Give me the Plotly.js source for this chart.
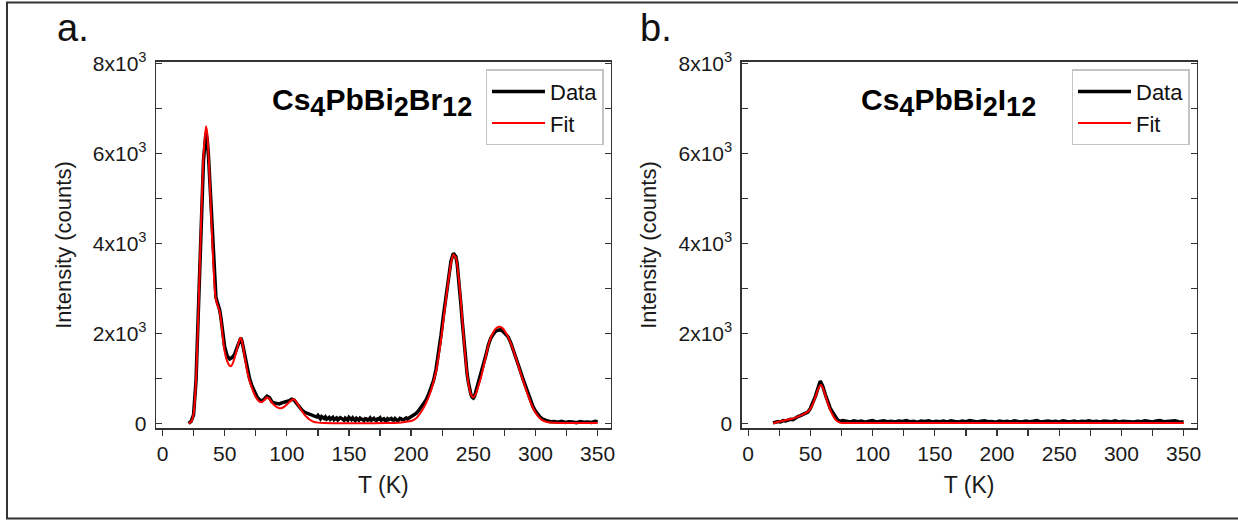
<!DOCTYPE html>
<html>
<head>
<meta charset="utf-8">
<script src="https://cdn.plot.ly/plotly-3.0.1.min.js"></script>
<style>html,body{margin:0;padding:0;background:#fff;}#chart{width:1238px;height:520px;}</style>
</head>
<body>
<div id="chart"></div>
<script>
// ---------- Panel a: Cs4PbBi2Br12 ----------
const dataA = [
  [21,0],[23,40],[25,190],[27,950],[29,2600],[31,4350],[33,5850],[35,6450],[36,6300],[37,5950],
  [38,5450],[39,4850],[40,4250],[41,3650],[42,3100],[43,2800],[44,2700],[45,2620],[46,2520],[47,2350],
  [48,2080],[49,1850],[50,1700],[52,1500],[54,1430],[56,1460],[58,1530],[60,1680],[62,1870],[63,1900],
  [64,1820],[66,1520],[68,1220],[70,1000],[72,830],[74,690],[76,590],[78,520],[80,500],[82,540],
  [84,600],[86,570],[88,480],[90,450],[92,440],[94,430],[96,455],[98,470],[100,480],[102,500],
  [104,535],[106,515],[108,440],[110,360],[112,300],[114,250],[116,225],[118,200],[120,175],[122,165],
  [124,140],[125,175],[126,120],[127,100],[128,150],[129,120],[130,110],[131,140],[132,90],[133,110],
  [134,130],[135,85],[136,100],[137,130],[138,80],[139,100],[140,120],[141,75],[142,90],[143,125],
  [144,110],[145,85],[146,70],[147,115],[148,100],[149,70],[150,130],[151,95],[152,80],[153,120],
  [154,90],[155,60],[156,110],[157,95],[158,70],[159,115],[160,90],[161,65],[162,60],[163,105],
  [164,100],[165,70],[166,80],[167,115],[168,70],[169,90],[170,110],[171,75],[172,60],[173,95],
  [174,90],[175,120],[176,70],[177,85],[178,100],[179,65],[180,60],[181,100],[182,80],[183,95],
  [184,110],[185,75],[186,70],[187,105],[188,90],[189,60],[190,70],[191,110],[192,100],[193,75],
  [194,80],[195,115],[196,120],[197,95],[198,110],[199,130],[200,140],[202,180],
  [204,220],[206,280],[208,350],[210,420],[212,520],[214,640],[216,780],[218,950],[220,1200],[222,1550],
  [224,1950],[226,2400],[228,2850],[230,3250],[232,3600],[234,3780],[236,3700],[237,3550],[238,3300],[239,3000],
  [240,2650],[241,2300],[242,1950],[243,1650],[244,1350],[245,1100],[246,920],[247,770],[248,650],[249,580],
  [250,560],[251,600],[252,700],[254,870],[256,1030],[258,1250],[260,1500],[262,1730],[264,1890],[266,1980],
  [268,2050],[270,2070],[272,2080],[274,2040],[276,1990],[278,1920],[280,1800],[282,1650],[284,1480],[286,1320],
  [288,1150],[290,980],[292,820],[294,650],[296,500],[298,370],[300,270],[302,190],[304,130],[306,90],
  [308,60],[310,50],[312,35],[315,40],[318,25],[321,45],[324,20],[327,35],[330,30],[333,15],
  [336,40],[339,25],[342,30],[345,20],[348,45],[350,35]
];
const fitA = [
  [21,0],[23,30],[25,200],[27,950],[29,2550],[31,4400],[33,5950],[35,6600],[36,6450],[37,6000],
  [38,5400],[39,4700],[40,4100],[41,3500],[42,3000],[43,2750],[44,2650],[45,2580],[46,2480],[47,2300],
  [48,2050],[49,1800],[50,1600],[52,1380],[54,1280],[55,1270],[56,1300],[58,1450],[60,1650],[62,1860],
  [63,1900],[64,1820],[66,1500],[68,1180],[70,950],[72,780],[74,640],[76,540],[78,480],[80,470],
  [82,520],[84,580],[86,540],[88,460],[90,400],[92,360],[94,335],[96,340],[98,370],[100,420],
  [102,470],[104,520],[106,530],[108,460],[110,370],[112,280],[114,200],[116,140],[118,90],[120,55],
  [122,30],[125,15],[130,5],[140,0],[160,0],[180,5],[190,15],[195,30],[200,50],[204,110],
  [208,250],[212,450],[216,730],[220,1150],[224,1850],[228,2750],[232,3550],[234,3750],[236,3680],[238,3300],
  [240,2700],[242,2000],[244,1350],[246,900],[248,650],[250,580],[252,650],[254,820],[256,1000],[258,1230],
  [260,1480],[262,1720],[264,1900],[266,2020],[268,2100],[270,2140],[272,2140],[274,2100],[276,2020],[278,1920],
  [280,1790],[282,1640],[284,1470],[286,1300],[288,1120],[290,950],[292,780],[294,620],[296,470],[298,340],
  [300,240],[302,160],[304,100],[306,60],[310,25],[315,10],[320,5],[330,5],[350,5]
];

// ---------- Panel b: Cs4PbBi2I12 ----------
const dataB = [
  [20,10],[22,30],[24,40],[26,30],[28,60],[30,50],[32,80],[34,90],[36,80],[38,120],
  [40,150],[42,170],[44,190],[46,210],[48,250],[50,330],[52,450],[54,600],[56,770],[57,870],
  [58,940],[59,880],[60,820],[62,640],[64,470],[66,330],[68,240],[70,140],[72,70],[74,40],
  [76,60],[79,45],[82,30],[85,55],[88,35],[91,50],[94,25],[97,45],[100,60],[103,30],
  [106,40],[109,55],[112,35],[115,45],[118,30],[121,50],[124,40],[127,60],[130,35],[133,45],
  [136,25],[139,50],[142,40],[145,55],[148,30],[151,45],[154,35],[157,50],[160,30],[163,55],
  [166,40],[169,30],[172,50],[175,35],[178,60],[181,40],[184,30],[187,45],[190,55],[193,35],
  [196,40],[199,25],[202,50],[205,35],[208,45],[211,30],[214,55],[217,40],[220,30],[223,50],
  [226,35],[229,45],[232,60],[235,30],[238,40],[241,50],[244,35],[247,45],[250,30],[253,55],
  [256,40],[259,35],[262,50],[265,30],[268,45],[271,40],[274,55],[277,35],[280,45],[283,30],
  [286,50],[289,40],[292,35],[295,55],[298,30],[301,45],[304,40],[307,50],[310,30],[313,45],
  [316,35],[319,55],[322,40],[325,30],[328,50],[331,60],[334,35],[337,45],[340,40],[343,55],
  [346,35],[349,45],[350,30]
];
const fitB = [
  [20,0],[25,40],[30,70],[35,100],[40,150],[45,210],[48,260],[50,320],[52,430],[54,580],
  [56,740],[58,850],[59,840],[60,780],[62,620],[64,450],[66,300],[68,180],[70,90],[72,40],
  [74,15],[76,8],[80,5],[150,5],[250,5],[350,5]
];

// ---------- Tick labels ----------
const xTickVals = [0, 50, 100, 150, 200, 250, 300, 350];
const yTickVals = [0, 2000, 4000, 6000, 8000];
const yTickText = ['0', '2x10<sup>3</sup>', '4x10<sup>3</sup>', '6x10<sup>3</sup>', '8x10<sup>3</sup>'];

const FONT = 'Liberation Sans, Arial, Helvetica, sans-serif';
const AX = '#333333';
const col = (arr, i) => arr.map(p => p[i]);

const traces = [
  {x: col(dataA,0), y: col(dataA,1), xaxis:'x', yaxis:'y', name:'Data', mode:'lines',
   line:{color:'#000', width:3.5}, legend:'legend'},
  {x: col(fitA,0), y: col(fitA,1), xaxis:'x', yaxis:'y', name:'Fit', mode:'lines',
   line:{color:'#ff0000', width:2, shape:'spline', smoothing:0.6}, legend:'legend'},
  {x: col(dataB,0), y: col(dataB,1), xaxis:'x2', yaxis:'y2', name:'Data', mode:'lines',
   line:{color:'#000', width:3.5}, legend:'legend2'},
  {x: col(fitB,0), y: col(fitB,1), xaxis:'x2', yaxis:'y2', name:'Fit', mode:'lines',
   line:{color:'#ff0000', width:2, shape:'spline', smoothing:0.6}, legend:'legend2'}
];

const W = 1238, H = 520;
const xr = [-5.2, 360.5], yr = [-111, 8036];
const yDom = [1 - 428.3/H, 1 - 61.7/H];

function xAxis(dom, anchor) {
  return {
    domain: dom, anchor: anchor, range: xr, showgrid:false, zeroline:false,
    showline:true, linecolor:AX, linewidth:1.3, mirror:true,
    tickmode:'array', tickvals:xTickVals, ticks:'outside', ticklen:6, tickwidth:1.3, tickcolor:AX,
    minor:{dtick:25, tick0:0, ticks:'outside', ticklen:6, tickwidth:1.3, tickcolor:AX},
    tickfont:{family:FONT, size:21, color:'#1a1a1a'},
    title:{text:'T (K)', font:{family:FONT, size:23, color:'#1a1a1a'}, standoff:13}
  };
}
function xTop(over, anchor) {
  return {
    overlaying: over, anchor: anchor, side:'top', range: xr, showgrid:false, zeroline:false,
    showline:false, showticklabels:false,
    dtick:50, tick0:0, ticks:'inside', ticklen:6, tickwidth:1.3, tickcolor:AX,
    minor:{dtick:25, tick0:0, ticks:'inside', ticklen:6, tickwidth:1.3, tickcolor:AX}
  };
}
function yAxis(anchor) {
  return {
    domain: yDom, anchor: anchor, range: yr, showgrid:false, zeroline:false,
    showline:true, linecolor:AX, linewidth:1.3, mirror:'ticks',
    tickmode:'array', tickvals:yTickVals, ticktext:yTickText,
    ticks:'inside', ticklen:6, tickwidth:1.3, tickcolor:AX, ticklabelstandoff:4,
    minor:{dtick:1000, tick0:0, ticks:'inside', ticklen:6, tickwidth:1.3, tickcolor:AX},
    tickfont:{family:FONT, size:21, color:'#1a1a1a'},
    title:{text:'Intensity (counts)', font:{family:FONT, size:22, color:'#1a1a1a'}, standoff:15}
  };
}
function legendAt(xpx) {
  return {
    x: xpx/W, y: 1 - 69.3/H, xanchor:'left', yanchor:'top',
    bgcolor:'#ffffff', bordercolor:'#c4c4c4', borderwidth:1.3,
    font:{family:FONT, size:22, color:'#111'}, itemwidth:53, tracegroupgap:0
  };
}
const sub = s => '<sub><span style="font-size:27px">' + s + '</span></sub>';

const layout = {
  width: W, height: H, margin:{l:0, r:0, t:0, b:0},
  paper_bgcolor:'#ffffff', plot_bgcolor:'#ffffff', showlegend:true,
  xaxis: xAxis([156/W, 610.7/W], 'y'),
  yaxis: yAxis('x'),
  xaxis2: xAxis([741.7/W, 1196.7/W], 'y2'),
  yaxis2: yAxis('x2'),
  xaxis3: xTop('x', 'y'),
  xaxis4: xTop('x2', 'y2'),
  legend: legendAt(485.7),
  legend2: legendAt(1071.7),
  annotations: [
    {xref:'paper', yref:'paper', x:55/W, y:1-28/H, xanchor:'left', yanchor:'middle', showarrow:false,
     text:'a.', font:{family:FONT, size:38, color:'#111'}},
    {xref:'paper', yref:'paper', x:638/W, y:1-28/H, xanchor:'left', yanchor:'middle', showarrow:false,
     text:'b.', font:{family:FONT, size:38, color:'#111'}},
    {xref:'paper', yref:'paper', x:371.5/W, y:1-103/H, xanchor:'center', yanchor:'middle', showarrow:false,
     text:'<b>Cs' + sub('4') + 'PbBi' + sub('2') + 'Br' + sub('12') + '</b>', font:{family:FONT, size:30, color:'#000'}},
    {xref:'paper', yref:'paper', x:948/W, y:1-103/H, xanchor:'center', yanchor:'middle', showarrow:false,
     text:'<b>Cs' + sub('4') + 'PbBi' + sub('2') + 'I' + sub('12') + '</b>', font:{family:FONT, size:30, color:'#000'}}
  ],
  shapes: [
    {type:'rect', xref:'paper', yref:'paper', x0:7/W, x1:1.01, y0:1-518.5/H, y1:1-2.5/H,
     line:{color:'#333', width:2}, fillcolor:'rgba(0,0,0,0)', layer:'above'}
  ]
};

Plotly.newPlot('chart', traces, layout, {displayModeBar:false, staticPlot:true});
</script>
</body>
</html>
